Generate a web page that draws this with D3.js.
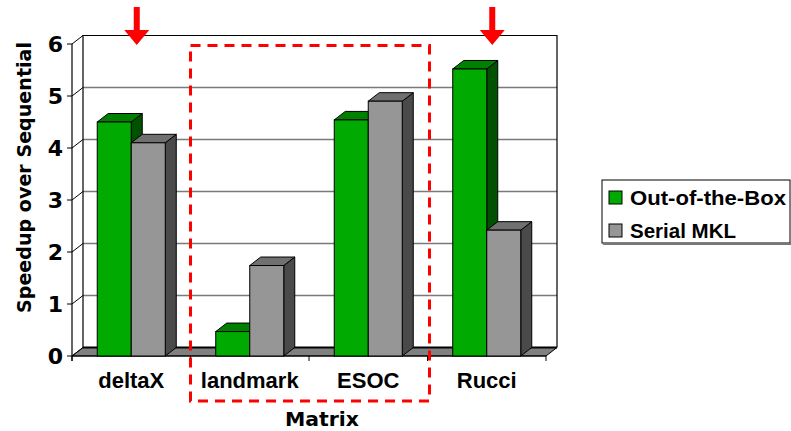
<!DOCTYPE html>
<html>
<head>
<meta charset="utf-8">
<script src="https://cdn.jsdelivr.net/npm/d3@7"></script>
<style>
  html, body { margin: 0; padding: 0; background: #fff; }
  svg { display: block; }
</style>
</head>
<body>
<svg id="chart" width="791" height="431"></svg>
<script>
// Speedup of each matrix over the sequential run
const categories = ["deltaX", "landmark", "ESOC", "Rucci"];
const seriesNames = ["Out-of-the-Box", "Serial MKL"];
const outOfTheBox = [4.5, 0.47, 4.54, 5.52];
const serialMKL = [4.1, 1.74, 4.9, 2.42];
const yTicks = [0, 1, 2, 3, 4, 5, 6];
const highlighted = ["deltaX", "Rucci"];
const boxed = ["landmark", "ESOC"];

const svg = d3.select("#chart");

// 3-D frame geometry: front plane plus depth offset to the back wall
const DX = 11, DY = -8.5;
const x0 = 72, x1 = 546, yTop = 44, yBase = 356;

const x = d3.scaleBand().domain(categories).range([x0, x1])
  .paddingInner(0.426).paddingOuter(0.213);
const xs = d3.scaleBand().domain(seriesNames).range([0, x.bandwidth()]);
const y = d3.scaleLinear().domain([0, 6]).range([yBase, yTop]);

const faces = {
  "Out-of-the-Box": { front: "#00aa00", top: "#008000", side: "#005200" },
  "Serial MKL": { front: "#969696", top: "#707070", side: "#4a4a4a" }
};

const g = svg.append("g");

// back wall gridlines
g.selectAll("line.grid").data(yTicks.filter(d => d > 0 && d < 6)).join("line")
  .attr("x1", x0 + DX).attr("x2", x1 + DX)
  .attr("y1", d => y(d) + DY).attr("y2", d => y(d) + DY)
  .attr("stroke", "#7a7a7a").attr("stroke-width", 1.5);

// back wall outline (top and right edges, left back edge)
g.append("path")
  .attr("d", `M${x0 + DX},${y(0) + DY}V${y(6) + DY}H${x1 + DX}V${y(0) + DY}`)
  .attr("fill", "none").attr("stroke", "#000").attr("stroke-width", 1.2);

// floor
g.append("path")
  .attr("d", `M${x0},${yBase}L${x0 + DX},${yBase + DY}H${x1 + DX}L${x1},${yBase}Z`)
  .attr("fill", "#808080").attr("stroke", "#000").attr("stroke-width", 1);
g.append("line")
  .attr("x1", x0 + DX).attr("x2", x1 + DX)
  .attr("y1", yBase + DY).attr("y2", yBase + DY)
  .attr("stroke", "#000").attr("stroke-width", 2);

// left wall: diagonal tick lines from the front axis to the back wall
g.selectAll("line.diag").data(yTicks).join("line")
  .attr("x1", x0).attr("y1", d => y(d))
  .attr("x2", x0 + DX).attr("y2", d => y(d) + DY)
  .attr("stroke", "#000").attr("stroke-width", 1);

// front value axis
g.append("line").attr("x1", x0).attr("x2", x0)
  .attr("y1", y(6)).attr("y2", yBase + 5)
  .attr("stroke", "#000").attr("stroke-width", 1.2);
g.selectAll("line.ytick").data(yTicks).join("line")
  .attr("x1", x0 - 5).attr("x2", x0)
  .attr("y1", d => y(d)).attr("y2", d => y(d))
  .attr("stroke", "#000").attr("stroke-width", 1);
g.selectAll("text.ylab").data(yTicks).join("text")
  .attr("x", 63).attr("y", d => y(d)).attr("dy", "0.36em")
  .attr("text-anchor", "end")
  .attr("font-family", "'DejaVu Sans', Verdana, sans-serif")
  .attr("font-weight", "bold").attr("font-size", 22)
  .text(d => d);

// category axis along the front of the floor
g.append("line").attr("x1", x0).attr("x2", x1)
  .attr("y1", yBase).attr("y2", yBase)
  .attr("stroke", "#000").attr("stroke-width", 1.2);
const bounds = categories.map(c => x(c) - x.step() * x.paddingOuter()).concat([x1]);
g.selectAll("line.xtick").data(bounds).join("line")
  .attr("x1", d => d).attr("x2", d => d)
  .attr("y1", yBase).attr("y2", yBase + 5)
  .attr("stroke", "#000").attr("stroke-width", 1);

// 3-D bars
const rows = [];
categories.forEach((c, i) => {
  rows.push({ cat: c, series: seriesNames[0], value: outOfTheBox[i] });
  rows.push({ cat: c, series: seriesNames[1], value: serialMKL[i] });
});
const bars = g.selectAll("g.bar").data(rows).join("g").attr("class", "bar");
bars.each(function (d) {
  const bx = x(d.cat) + xs(d.series), bw = xs.bandwidth();
  const top = y(d.value), col = faces[d.series];
  const sel = d3.select(this);
  sel.append("path")
    .attr("d", `M${bx + bw},${yBase}L${bx + bw + DX},${yBase + DY}V${top + DY}L${bx + bw},${top}Z`)
    .attr("fill", col.side).attr("stroke", "#000").attr("stroke-width", 1);
  sel.append("path")
    .attr("d", `M${bx},${top}L${bx + DX},${top + DY}H${bx + bw + DX}L${bx + bw},${top}Z`)
    .attr("fill", col.top).attr("stroke", "#000").attr("stroke-width", 1);
  sel.append("rect")
    .attr("x", bx).attr("y", top).attr("width", bw).attr("height", yBase - top)
    .attr("fill", col.front).attr("stroke", "#000").attr("stroke-width", 1);
});

// category labels
g.selectAll("text.xlab").data(categories).join("text")
  .attr("x", d => x(d) + x.bandwidth() / 2).attr("y", 388)
  .attr("text-anchor", "middle")
  .attr("font-family", "'Liberation Sans', Arial, sans-serif")
  .attr("font-weight", "bold").attr("font-size", 22)
  .text(d => d);

// axis titles
const titleFont = "'Comic Sans MS', 'DejaVu Sans', sans-serif";
svg.append("text")
  .attr("transform", "translate(31,177.5) rotate(-90)")
  .attr("text-anchor", "middle")
  .attr("font-family", titleFont).attr("font-weight", "bold").attr("font-size", 20)
  .attr("textLength", 271).attr("lengthAdjust", "spacingAndGlyphs")
  .text("Speedup over Sequential");
svg.append("text")
  .attr("x", 322).attr("y", 426).attr("text-anchor", "middle")
  .attr("font-family", titleFont).attr("font-weight", "bold").attr("font-size", 20)
  .attr("textLength", 74).attr("lengthAdjust", "spacingAndGlyphs")
  .text("Matrix");

// red arrows over the highlighted matrices
const arrow = svg.append("g").attr("fill", "#ff0000");
arrow.selectAll("path").data(highlighted).join("path")
  .attr("d", d => {
    const cx = x(d) + x.bandwidth() / 2 + DX / 2;
    return `M${cx - 3},7H${cx + 3}V30H${cx + 12.5}L${cx},45L${cx - 12.5},30H${cx - 3}Z`;
  });

// dashed box around the grouped matrices
const bx0 = x(boxed[0]) - x.step() * x.paddingOuter();
const bx1 = x(boxed[boxed.length - 1]) + x.bandwidth() + x.step() * x.paddingOuter() + 2;
svg.append("rect")
  .attr("x", bx0).attr("y", 45.5).attr("width", bx1 - bx0).attr("height", 401 - 45.5)
  .attr("fill", "none").attr("stroke", "#ff0000").attr("stroke-width", 3)
  .attr("stroke-dasharray", "10,7");

// legend
const lg = svg.append("g");
lg.append("rect").attr("x", 602).attr("y", 180).attr("width", 188).attr("height", 63)
  .attr("fill", "#fff").attr("stroke", "#000").attr("stroke-width", 1);
lg.append("line").attr("x1", 603).attr("x2", 791).attr("y1", 244).attr("y2", 244)
  .attr("stroke", "#777").attr("stroke-width", 2);
const legendW = [156, 106];
lg.selectAll("rect.sw").data(seriesNames).join("rect")
  .attr("x", 609).attr("y", (d, i) => 191 + i * 33)
  .attr("width", 13).attr("height", 13)
  .attr("fill", d => faces[d].front).attr("stroke", "#000").attr("stroke-width", 1);
lg.selectAll("text.lt").data(seriesNames).join("text")
  .attr("x", 630).attr("y", (d, i) => 205 + i * 33)
  .attr("font-family", "'Liberation Sans', Arial, sans-serif")
  .attr("font-weight", "bold").attr("font-size", 21)
  .attr("textLength", (d, i) => legendW[i]).attr("lengthAdjust", "spacingAndGlyphs")
  .text(d => d);
</script>
</body>
</html>
